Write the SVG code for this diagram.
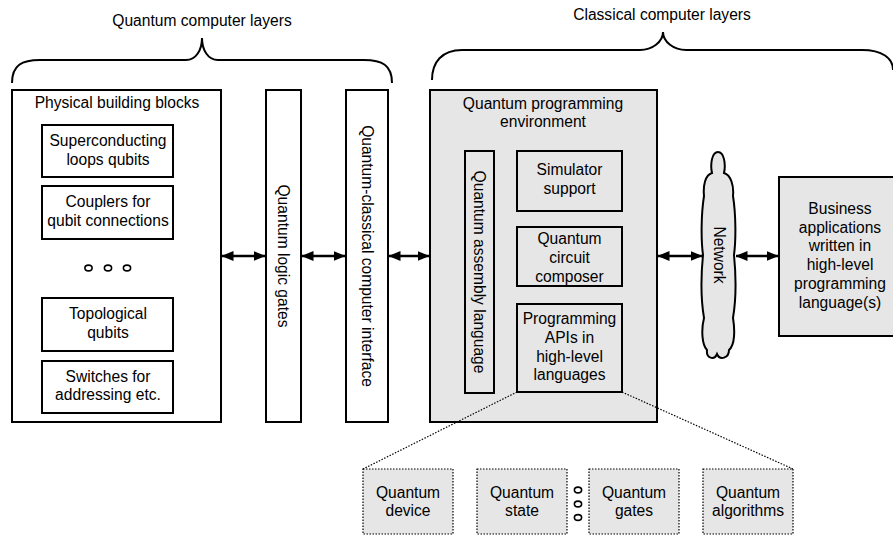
<svg xmlns="http://www.w3.org/2000/svg" width="893" height="535" viewBox="0 0 893 535">
<style>
text{font-family:"Liberation Sans",Arial,sans-serif;font-size:15.6px;fill:#000;text-anchor:middle}
.box{fill:#fff;stroke:#000;stroke-width:2}
.gbox{fill:#e6e6e6;stroke:#000;stroke-width:2}
.dbox{fill:#e6e6e6;stroke:#000;stroke-width:1.2;stroke-dasharray:1.5 1.5}
.brace{fill:none;stroke:#000;stroke-width:2}
.conn{stroke:#000;stroke-width:2.6;fill:none}
.dot{fill:none;stroke:#000;stroke-width:1.6}
.dotted{stroke:#000;stroke-width:1.2;stroke-dasharray:1.5 1.5;fill:none}
</style>
<defs>
<marker id="ah" viewBox="0 0 12 10" refX="11.5" refY="5" markerWidth="12" markerHeight="10" markerUnits="userSpaceOnUse" orient="auto-start-reverse">
<path d="M0,0 L12,5 L0,10 z" fill="#000"/>
</marker>
</defs>
<rect width="893" height="535" fill="#fff"/>

<g id="quantum-layers-brace">
<path class="brace" d="M12,83 C12,65 22,60 40,60 L186,60 C196,60 202,50 202,38 C202,50 208,60 218,60 L364,60 C382,60 392,65 392,83"/>
<text x="202" y="26">Quantum computer layers</text>
</g>
<g id="classical-layers-brace">
<path class="brace" d="M432,80 C432,62 442,50 462,50 L640,50 C652,50 663,42 663,32 C663,42 674,50 686,50 L862,50 C882,50 893,58 893,70"/>
<text x="662" y="20">Classical computer layers</text>
</g>

<g id="physical">
<rect class="box" x="12" y="90" width="209" height="332"/>
<text x="117" y="107.5">Physical building blocks</text>
</g>
<g id="superconducting">
<rect class="box" x="42" y="125" width="131" height="52"/>
<text x="108" y="145.5">Superconducting</text>
<text x="108" y="164.5">loops qubits</text>
</g>
<g id="couplers">
<rect class="box" x="42" y="186" width="131" height="53"/>
<text x="108" y="206.5">Couplers for</text>
<text x="108" y="225.5">qubit connections</text>
</g>
<g id="phys-dots">
<ellipse class="dot" cx="88.5" cy="268" rx="3.6" ry="2.9"/>
<ellipse class="dot" cx="108" cy="268" rx="3.6" ry="2.9"/>
<ellipse class="dot" cx="127" cy="268" rx="3.6" ry="2.9"/>
</g>
<g id="topological">
<rect class="box" x="42" y="298" width="131" height="53"/>
<text x="108" y="318.5">Topological</text>
<text x="108" y="337.5">qubits</text>
</g>
<g id="switches">
<rect class="box" x="42" y="361" width="131" height="52"/>
<text x="108" y="381.5">Switches for</text>
<text x="108" y="399.5">addressing etc.</text>
</g>

<g id="logic-gates">
<rect class="box" x="266" y="90" width="35" height="332"/>
<text transform="translate(283.5,256) rotate(90)" y="5.5">Quantum logic gates</text>
</g>
<g id="interface">
<rect class="box" x="346" y="90" width="42" height="332"/>
<text transform="translate(367,256) rotate(90)" y="5.5">Quantum-classical computer interface</text>
</g>

<g id="qpe">
<rect class="gbox" x="430" y="90" width="227" height="332"/>
<text x="543" y="108.5">Quantum programming</text>
<text x="543" y="126.5">environment</text>
</g>
<g id="assembly">
<rect class="gbox" x="465" y="151" width="29" height="242"/>
<text transform="translate(479.5,272) rotate(90)" y="5.5">Quantum assembly language</text>
</g>
<g id="simulator">
<rect class="gbox" x="517" y="151" width="105" height="60"/>
<text x="569.5" y="174.5">Simulator</text>
<text x="569.5" y="193.5">support</text>
</g>
<g id="composer">
<rect class="gbox" x="517" y="227" width="105" height="59"/>
<text x="569.5" y="243.5">Quantum</text>
<text x="569.5" y="262.5">circuit</text>
<text x="569.5" y="281.5">composer</text>
</g>
<g id="apis">
<rect class="gbox" x="517" y="304" width="105" height="88"/>
<text x="569.5" y="323.5">Programming</text>
<text x="569.5" y="342.5">APIs in</text>
<text x="569.5" y="361.5">high-level</text>
<text x="569.5" y="379.5">languages</text>
</g>

<g id="network">
<path class="gbox" d="M718,152 C712,152 710,164 712,173 C705,175 703,186 704,196 C701,215 701,240 703,255 C701,275 701,300 704,318 C701,330 702,345 707,350 C706,358 714,361 717,354 C720,361 729,358 729,350 C735,345 735,330 733,318 C736,300 736,275 734,255 C736,240 736,215 733,196 C734,186 731,175 724,173 C726,164 724,152 718,152 Z"/>
<text transform="translate(719,255) rotate(90)" y="5.5">Network</text>
</g>

<g id="business">
<rect class="gbox" x="779" y="177" width="116" height="159"/>
<text x="840" y="213.5">Business</text>
<text x="840" y="232.5">applications</text>
<text x="840" y="250.5">written in</text>
<text x="840" y="269.5">high-level</text>
<text x="840" y="288.5">programming</text>
<text x="840" y="307.5">language(s)</text>
</g>

<g id="device">
<rect class="dbox" x="363" y="469" width="90" height="65"/>
<text x="408" y="497.5">Quantum</text>
<text x="408" y="515.5">device</text>
</g>
<g id="state">
<rect class="dbox" x="477" y="469" width="90" height="65"/>
<text x="522" y="497.5">Quantum</text>
<text x="522" y="515.5">state</text>
</g>
<g id="api-dots">
<ellipse class="dot" cx="578" cy="490" rx="3.6" ry="2.9"/>
<ellipse class="dot" cx="578" cy="504" rx="3.6" ry="2.9"/>
<ellipse class="dot" cx="578" cy="517.5" rx="3.6" ry="2.9"/>
</g>
<g id="gates">
<rect class="dbox" x="589" y="469" width="90" height="65"/>
<text x="634" y="497.5">Quantum</text>
<text x="634" y="515.5">gates</text>
</g>
<g id="algorithms">
<rect class="dbox" x="703" y="469" width="90" height="65"/>
<text x="748" y="497.5">Quantum</text>
<text x="748" y="515.5">algorithms</text>
</g>

<g id="connectors">
<line class="conn" x1="222" y1="256" x2="265" y2="256" marker-start="url(#ah)" marker-end="url(#ah)"/>
<line class="conn" x1="302" y1="256" x2="345" y2="256" marker-start="url(#ah)" marker-end="url(#ah)"/>
<line class="conn" x1="389" y1="256" x2="429" y2="256" marker-start="url(#ah)" marker-end="url(#ah)"/>
<line class="conn" x1="658" y1="256" x2="702" y2="256" marker-start="url(#ah)" marker-end="url(#ah)"/>
<line class="conn" x1="736" y1="256" x2="778" y2="256" marker-start="url(#ah)" marker-end="url(#ah)"/>
<line class="dotted" x1="517" y1="392" x2="363" y2="469"/>
<line class="dotted" x1="622" y1="392" x2="793" y2="469"/>
</g>
</svg>
